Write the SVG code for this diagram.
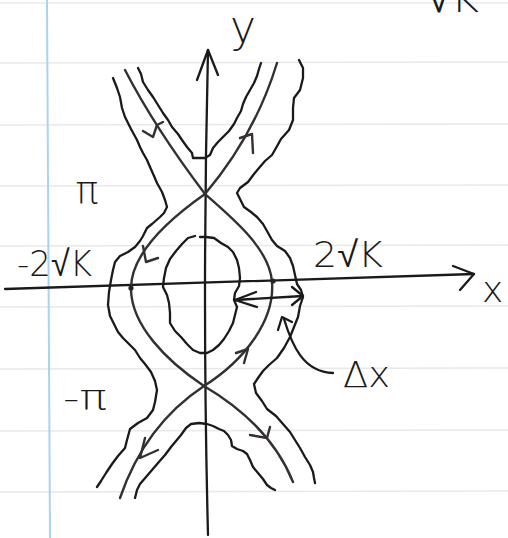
<svg xmlns="http://www.w3.org/2000/svg" width="508" height="538" viewBox="0 0 508 538">
<style>
.rule{stroke:#e8e8e8;stroke-width:1.5}
.ink{fill:none;stroke:#1a1a1a;stroke-width:2.3;stroke-linecap:round;stroke-linejoin:round}
.sep{fill:none;stroke:#343030;stroke-width:2.4;stroke-linecap:round;stroke-linejoin:round}
.lbl{fill:#1a1a1a;font-family:"DejaVu Sans","Liberation Sans",sans-serif;font-weight:200}
</style>
<rect width="508" height="538" fill="#ffffff"/>
<g id="paper">
<line class="rule" x1="0" y1="3" x2="508" y2="3"/>
<line class="rule" x1="0" y1="63" x2="508" y2="62"/>
<line class="rule" x1="0" y1="125" x2="508" y2="124"/>
<line class="rule" x1="0" y1="186" x2="508" y2="185"/>
<line class="rule" x1="0" y1="246" x2="508" y2="245"/>
<line class="rule" x1="0" y1="307" x2="508" y2="306"/>
<line class="rule" x1="0" y1="369" x2="508" y2="368"/>
<line class="rule" x1="0" y1="431" x2="508" y2="430"/>
<line class="rule" x1="0" y1="492" x2="508" y2="491"/>
<line x1="47" y1="0" x2="50" y2="538" stroke="#a9d3f2" stroke-width="2"/>
</g>
<g id="axes">
<path class="ink" d="M5,289 L474,274"/>
<polyline class="ink" points="453,266 474,274 460,290"/>
<path class="ink" d="M208,50 Q202,300 208,535"/>
<polyline class="ink" points="197,80 208,50 218,75"/>
</g>
<g id="separatrices">
<path class="sep" d="M125,70 Q155,128 205,194"/>
<path class="sep" d="M205,194 Q255,135 277,63"/>
<path class="sep" d="M205,194 C165,222 130,255 131,290 C132,325 165,360 204,386"/>
<path class="sep" d="M205,194 C235,220 270,250 272,282 C275,320 245,360 204,386"/>
<path class="sep" d="M204,386 Q145,425 120,498"/>
<path class="sep" d="M204,386 Q270,425 293,482"/>
<circle cx="131" cy="288" r="2.6" fill="#2a2222"/>
<circle cx="273" cy="281" r="2.6" fill="#2a2222"/>
<polyline class="sep" points="143,131 153,137 157,125 163,122"/>
<polyline class="sep" points="240,138 252,134 253,153"/>
<polyline class="sep" points="143,246 146,262 158,258"/>
<polyline class="sep" points="236,353 248,349 244,363"/>
<polyline class="sep" points="145,438 140,458 158,450"/>
<polyline class="sep" points="250,435 267,438 270,427"/>
</g>
<g id="wiggly-orbits">
<path class="ink" d="M113,78 L117,88 L120,97 L122,108 L125,117 L131,129 L137,140 L140,147 L143,153 L147,160 L150,167 L154,176 L157,183 L162,192 L165,200 L167,207 L164,213 L160,217 L152,224 L147,228 L143,236 L140,241 L135,247 L128,252 L120,256 L115,262 L113,270 L111,280 L109,292 L108,305 L110,316 L114,324 L118,332 L123,338 L130,345 L135,350 L140,358 L145,364 L151,372 L155,381 L157,390 L155,402 L153,410 L147,418 L138,423 L130,429 L127,440 L125,448 L118,456 L112,464 L106,473 L101,481 L97,487"/>
<path class="ink" d="M299,60 L303,68 L303,78 L300,90 L294,98 L293,108 L293,120 L289,130 L281,139 L276,148 L272,155 L265,161 L259,168 L254,174 L248,182 L240,188 L237,193 L241,201 L244,207 L251,212 L257,217 L263,224 L267,231 L272,240 L277,246 L285,251 L290,258 L293,266 L295,275 L297,284 L301,290 L303,297 L300,306 L298,317 L294,327 L290,337 L284,348 L277,358 L269,365 L263,371 L258,378 L254,384 L256,393 L262,401 L267,409 L276,416 L283,424 L290,432 L295,440 L300,448 L305,457 L310,465 L313,472 L314,478 L315,483"/>
<path class="ink" d="M138,68 L141,74 L143,82 L148,90 L153,97 L158,105 L163,113 L168,120 L172,127 L178,134 L182,140 L187,147 L192,153 L193,158 L199,158 L205,158 L210,155 L213,148 L218,142 L224,136 L229,131 L234,124 L237,118 L241,111 L243,104 L246,97 L250,90 L254,83 L257,76 L259,69 L261,63"/>
<path class="ink" d="M135,498 L137,490 L140,484 L146,477 L152,470 L158,463 L165,455 L171,447 L176,441 L181,435 L186,428 L191,424 L199,423 L207,424 L213,426 L219,429 L224,431 L228,435 L231,440 L232,446 L237,449 L243,451 L247,454 L250,460 L253,467 L258,473 L263,479 L267,485 L271,488 L275,490"/>
<path class="ink" d="M195,236 L188,238 L182,244 L176,251 L170,259 L166,268 L164,278 L163,287 L167,295 L169,303 L170,313 L170,323 L175,331 L181,337 L187,344 L193,350 L200,353 L207,353 L213,350 L219,345 L224,339 L229,331 L233,323 L235,315 L237,307 L234,300 L235,293 L239,286 L240,278 L239,268 L237,260 L233,252 L228,247 L221,243 L214,238 L206,237 L200,237"/>
</g>
<g id="delta-x">
<path class="ink" d="M235,300 L303,296"/>
<polyline class="ink" points="256,292 235,300 257,307"/>
<polyline class="ink" points="292,287 303,296 292,305"/>
<polyline class="ink" points="278,330 282,317 292,322"/>
<path class="ink" d="M284,319 C292,345 303,372 333,373"/>
</g>
<g id="labels">
<text class="lbl" x="230" y="42" font-size="44">y</text>
<text class="lbl" x="482" y="302" font-size="36">x</text>
<text class="lbl" x="87" y="203" font-size="38" text-anchor="middle">π</text>
<text class="lbl" x="17" y="276" font-size="36" textLength="75" lengthAdjust="spacingAndGlyphs">-2√K</text>
<text class="lbl" x="313" y="267" font-size="36" textLength="70" lengthAdjust="spacingAndGlyphs">2√K</text>
<text class="lbl" x="63" y="410" font-size="36" textLength="44" lengthAdjust="spacingAndGlyphs">-π</text>
<text class="lbl" x="343" y="387" font-size="36" textLength="47" lengthAdjust="spacingAndGlyphs">Δx</text>
<text class="lbl" x="427" y="12" font-size="40" textLength="52" lengthAdjust="spacingAndGlyphs">√K</text>
</g>
</svg>
